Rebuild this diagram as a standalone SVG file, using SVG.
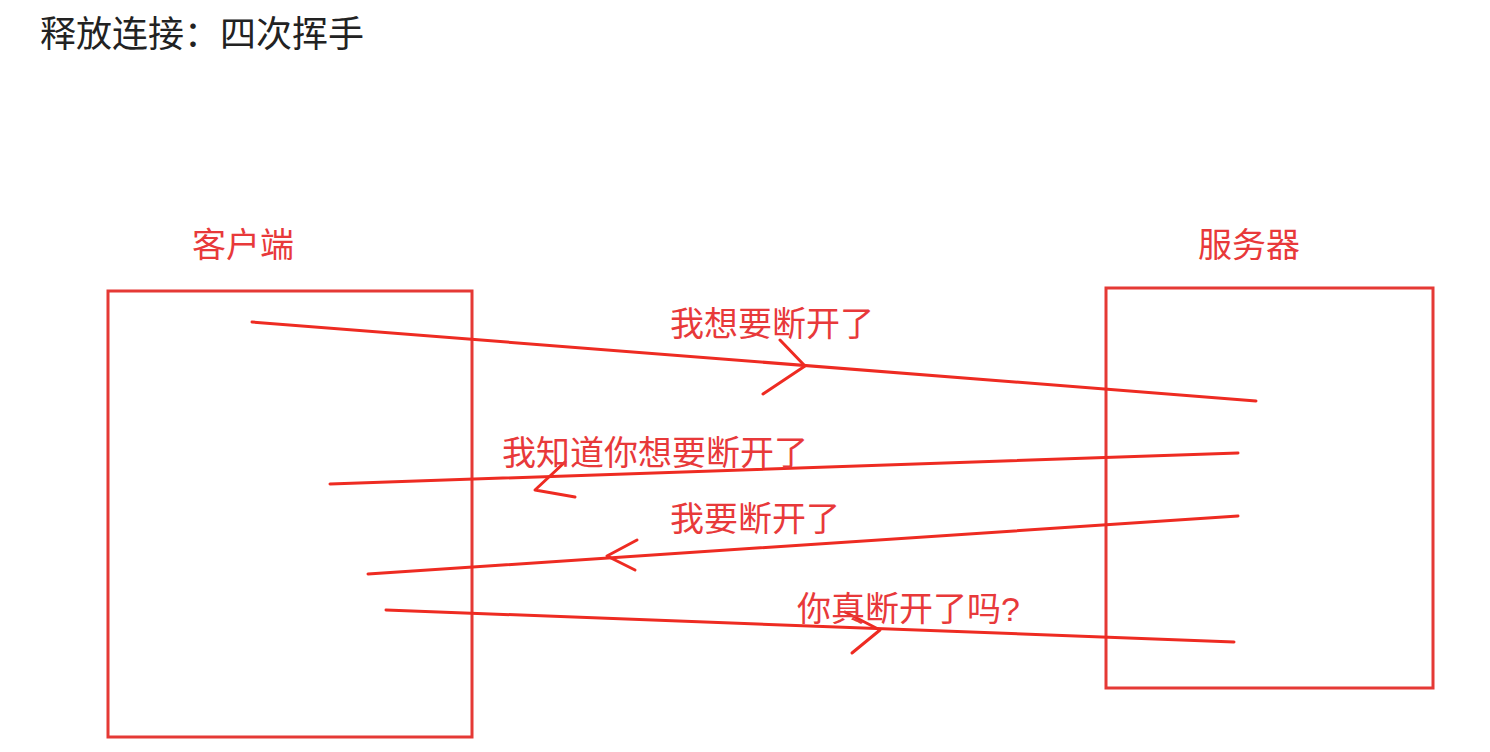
<svg xmlns="http://www.w3.org/2000/svg" width="1490" height="752" viewBox="0 0 1490 752">
<style>
.t{font-family:"Liberation Sans","Noto Sans CJK SC",sans-serif;}
.red{fill:#e8393a;font-size:34px;}
.box{fill:none;stroke:#e53935;stroke-width:3;}
.ln{fill:none;stroke:#ee2b22;stroke-width:3;stroke-linecap:round;stroke-linejoin:round;}
</style>
<rect width="1490" height="752" fill="#fff"/>
<text class="t" x="40" y="47" font-size="36" fill="#222">释放连接：四次挥手</text>
<g id="client"><rect class="box" x="108" y="291" width="364" height="446"/><text class="t red" x="192" y="257" font-size="35">客户端</text></g>
<g id="server"><rect class="box" x="1106" y="288" width="327" height="400"/><text class="t red" x="1198" y="257" font-size="35">服务器</text></g>
<g id="connectors">
<path class="ln" d="M252 322 L1256 401"/><path class="ln" d="M780 340 L805 366 L763 394"/>
<path class="ln" d="M330 484 L1238 453"/><path class="ln" d="M565 462 L535 490 L575 497"/>
<path class="ln" d="M368 574 L1238 516"/><path class="ln" d="M637 540 L607 556 L635 570"/>
<path class="ln" d="M386 610 L1234 642"/><path class="ln" d="M845 612 L880 630 L852 653"/>
</g>
<g id="labels">
<text class="t red" x="670" y="336">我想要断开了</text>
<text class="t red" x="502" y="465">我知道你想要断开了</text>
<text class="t red" x="670" y="531">我要断开了</text>
<text class="t red" x="797" y="621">你真断开了吗?</text>
</g>
</svg>
